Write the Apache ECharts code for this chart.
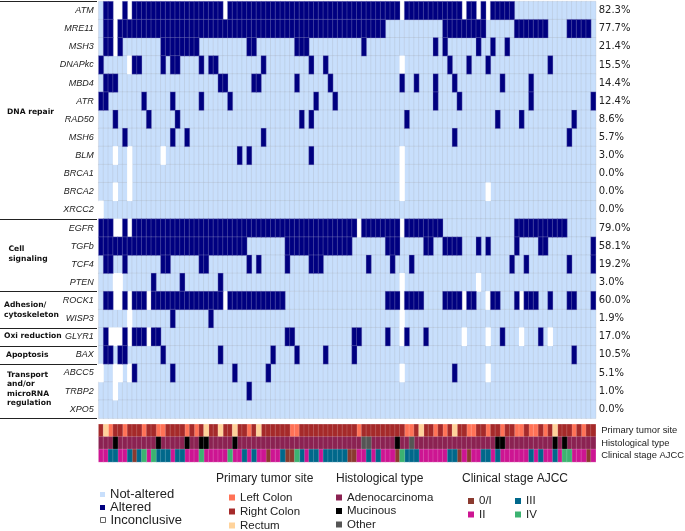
<!DOCTYPE html>
<html><head><meta charset="utf-8">
<style>html,body{margin:0;padding:0;background:#fff}#c{width:685px;height:531px}</style>
<script src="https://cdn.jsdelivr.net/npm/echarts@6/dist/echarts.min.js"></script>
</head><body><div id="c"></div>
<script>
const SAMPLE_COUNT = 104;
const genes = ['ATM','MRE11','MSH3','DNAPkc','MBD4','ATR','RAD50','MSH6','BLM','BRCA1','BRCA2','XRCC2','EGFR','TGFb','TCF4','PTEN','ROCK1','WISP3','GLYR1','BAX','ABCC5','TRBP2','XPO5'];
const percents = ['82.3%','77.7%','21.4%','15.5%','14.4%','12.4%','8.6%','5.7%','3.0%','0.0%','0.0%','0.0%','79.0%','58.1%','19.2%','3.0%','60.0%','1.9%','17.0%','10.5%','5.1%','1.0%','0.0%'];

// Altered sample columns per gene, as [first,last] runs
const altered = [
 [[1,2],[5,5],[7,25],[27,62],[64,75],[77,78],[80,80],[82,86]],
 [[1,2],[4,59],[72,80],[87,93],[98,102]],
 [[1,2],[4,4],[13,20],[31,32],[41,43],[55,55],[70,70],[72,72],[79,79],[82,82],[85,85]],
 [[0,0],[7,8],[13,13],[15,16],[21,21],[23,24],[34,34],[44,44],[47,47],[73,73],[77,77],[81,81],[94,94]],
 [[1,3],[25,26],[32,33],[41,41],[48,48],[63,63],[66,66],[70,70],[74,74],[84,84],[90,90]],
 [[0,1],[9,9],[15,15],[21,21],[27,27],[45,45],[49,49],[70,70],[75,75],[90,90],[103,103]],
 [[3,3],[10,10],[16,16],[42,42],[44,44],[64,64],[83,83],[88,88],[99,99]],
 [[5,5],[15,15],[18,18],[34,34],[74,74],[98,98]],
 [[29,29],[31,31],[44,44]],
 [],
 [],
 [],
 [[0,2],[5,5],[7,53],[55,62],[64,71],[87,97]],
 [[0,30],[39,52],[60,62],[68,69],[72,75],[79,79],[81,81],[87,87],[92,93],[103,103]],
 [[1,2],[5,5],[13,14],[21,22],[31,31],[33,33],[39,39],[44,46],[56,56],[61,61],[65,65],[86,86],[89,89],[98,98],[103,103]],
 [[11,11],[17,17],[25,25]],
 [[1,2],[5,5],[7,9],[11,25],[27,38],[60,62],[64,67],[72,75],[77,78],[82,83],[87,87],[89,91],[94,94],[98,99],[103,103]],
 [[15,15],[23,23]],
 [[1,1],[5,5],[7,9],[11,12],[39,40],[53,54],[60,60],[64,64],[68,68],[84,84],[92,92]],
 [[1,2],[4,5],[13,13],[25,25],[36,36],[41,41],[47,47],[53,53],[99,99]],
 [[7,7],[15,15],[28,28],[35,35],[74,74]],
 [[31,31]],
 []
];
// Inconclusive sample columns per gene
const inconclusive = [
 [3,4,6,26,63,76,79,81],
 [3],
 [3],
 [6,63],
 [],
 [],
 [],
 [],
 [3,6,13,63],
 [6,63],
 [3,6,63,81],
 [0],
 [3,4,6,54,63],
 [],
 [],
 [3,4,63,79],
 [3,4,6,10,26,63,76,81,88],
 [6,63],
 [2,3,4,6,10,63,76,81,88,94],
 [],
 [0,3,4,6,63,81],
 [3],
 []
];

// Annotation tracks as runs of samples
const siteRuns = [
 ['R',0,0],['C',1,1],['L',2,2],['R',3,4],['L',5,5],['R',6,8],['L',9,9],['R',10,11],['L',12,13],['R',14,17],['L',18,18],['R',19,19],['L',20,20],['R',21,21],['C',22,22],['R',23,24],['C',25,25],['R',26,27],['C',28,28],['R',29,30],['L',31,31],['R',32,32],['C',33,33],['R',34,39],['L',40,41],['R',42,53],['L',54,54],['R',55,63],['L',64,65],['R',66,66],['C',67,67],['R',68,69],['L',70,70],['R',71,71],['L',72,72],['R',73,73],['C',74,74],['R',75,76],['L',77,78],['R',79,80],['L',81,81],['R',82,83],['L',84,84],['R',85,86],['L',87,88],['R',89,89],['L',90,91],['R',92,92],['L',93,93],['R',94,94],['C',95,95],['R',96,98],['L',99,99],['R',100,100],['L',101,101],['R',102,103]
];
const mucinousCols = [3,12,18,21,22,28,62,83,84,95,97];
const otherCols = [55,56,65];
const stageRuns = [
 ['P',0,1],['T',2,3],['P',4,5],['T',6,6],['Z',7,7],['T',8,8],['G',9,9],['P',10,10],['G',11,11],['T',12,14],['P',15,15],['T',16,17],['P',18,20],['G',21,21],['P',22,26],['G',27,27],['P',28,29],['T',30,30],['P',31,31],['T',32,32],['P',33,34],['Z',35,35],['P',36,37],['T',38,38],['Z',39,40],['G',41,41],['T',42,42],['P',43,43],['T',44,45],['P',46,46],['T',47,51],['Z',52,53],['P',54,55],['T',56,56],['P',57,57],['T',58,58],['P',59,61],['Z',62,62],['G',63,63],['T',64,66],['P',67,72],['T',73,74],['Z',75,75],['P',76,76],['Z',77,77],['P',78,79],['T',80,81],['P',82,82],['T',83,83],['P',84,89],['T',90,90],['P',91,91],['T',92,92],['P',93,94],['T',95,95],['P',96,96],['G',97,98],['P',99,101],['Z',102,102],['P',103,103]
];
const trackNames = ['Primary tumor site','Histological type','Clinical stage AJCC'];
const groupLines = [0,12,16,18,19,20,23];

const samples = Array.from({length:SAMPLE_COUNT},(_,i)=>String(i));
const expand = runs => { const o=[]; runs.forEach(r=>{for(let i=r[0];i<=r[1];i++)o.push(i);}); return o; };
const alteredData=[], inconData=[], notData=[];
genes.forEach((g,row)=>{
  const a=new Set(expand(altered[row])), n=new Set(inconclusive[row]);
  for(let c=0;c<SAMPLE_COUNT;c++){
    if(n.has(c)) inconData.push([c,row,1]);
    else if(a.has(c)) alteredData.push([c,row,1]);
    else notData.push([c,row,1]);
  }
});
const grey='rgba(165,170,180,0.38)';
const F='"Liberation Sans"', D='"DejaVu Sans"';
function hm(name,color,data,gi,border,bw){
  return {type:'heatmap',name,xAxisIndex:gi,yAxisIndex:gi===0?0:2,data,silent:true,animation:false,
    itemStyle:{color,borderColor:border,borderWidth:bw},emphasis:{disabled:true}};
}
const trackData={L:[],R:[],C:[],A:[],M:[],O:[],Z:[],P:[],T:[],G:[]};
siteRuns.forEach(([k,a,b])=>{for(let c=a;c<=b;c++)trackData[k].push([c,0,1]);});
for(let c=0;c<SAMPLE_COUNT;c++){
  const h=mucinousCols.includes(c)?'M':otherCols.includes(c)?'O':'A'; trackData[h].push([c,1,1]);
}
stageRuns.forEach(([k,a,b])=>{for(let c=a;c<=b;c++)trackData[k].push([c,2,1]);});
const wl='rgba(255,255,255,0.35)';
const series=[
 hm('Not-altered','#c8dffc',notData,0,grey,0.6),
 hm('Inconclusive','#ffffff',inconData,0,'rgba(255,255,255,0)',0),
 hm('Altered','#000080',alteredData,0,'rgba(150,150,200,0.55)',0.6),
 hm('Left Colon','#ff7256',trackData.L,1,wl,0.5),
 hm('Right Colon','#a52a2a',trackData.R,1,wl,0.5),
 hm('Rectum','#ffd39b',trackData.C,1,wl,0.5),
 hm('Adenocarcinoma','#8b2252',trackData.A,1,wl,0.5),
 hm('Mucinous','#000000',trackData.M,1,wl,0.5),
 hm('Other','#555555',trackData.O,1,wl,0.5),
 hm('0/I','#8b3a2f',trackData.Z,1,wl,0.5),
 hm('II','#cd1592',trackData.P,1,wl,0.5),
 hm('III','#00688b',trackData.T,1,wl,0.5),
 hm('IV','#3cb371',trackData.G,1,wl,0.5)
];
const GL=98.7,GW=497,GT=1.5,GH=416.8,AT=424.3,AH=37.6;
function lg(name,left,cy,fs,w){
  const h=Math.ceil(fs*1.15);
  return {show:true,orient:'horizontal',left,top:cy-h/2+1.5,padding:0,itemWidth:w||6,itemHeight:w||6,itemGap:0,icon:'rect',selectedMode:false,
    itemStyle:{borderWidth:0},
    textStyle:{fontFamily:F,fontSize:fs,color:'#222'},
    data:[name==='Inconclusive'?{name,itemStyle:{color:'#fff',borderColor:'#666',borderWidth:1}}:{name}]};
}
const rowH=GH/genes.length;
const lines=groupLines.map(r=>{const y=Math.round(GT+r*rowH-(r===0?1:0))+0.5;return {type:'line',silent:true,shape:{x1:0,y1:y,x2:97,y2:y},style:{stroke:'#222',lineWidth:1}};});
const groupText=[
 ['DNA repair',7,111.7],['Cell',8.5,249],['signaling',8.5,259],['Adhesion/',4,305],['cytoskeleton',4,315],
 ['Oxi reduction',4,336],['Apoptosis',6,355],['Transport',7,375],['and/or',7,384.5],['microRNA',7,394],['regulation',7,403.5]
].map(t=>({type:'text',silent:true,style:{text:t[0],x:t[1],y:t[2],textVerticalAlign:'middle',font:'bold 7.6px '+D,fill:'#111'}}));
const titles=[['Primary tumor site',216],['Histological type',336],['Clinical stage AJCC',462]]
 .map(t=>({type:'text',silent:true,style:{text:t[0],x:t[1],y:479,textVerticalAlign:'middle',font:'12px '+F,fill:'#222'}}));
const chart=echarts.init(document.getElementById('c'),null,{renderer:'canvas'});
chart.setOption({
 animation:false,backgroundColor:'#fff',tooltip:{show:false},
 grid:[{left:GL,top:GT,width:GW,height:GH,outerBoundsMode:'none'},{left:GL,top:AT,width:GW,height:AH,outerBoundsMode:'none'}],
 xAxis:[{type:'category',gridIndex:0,data:samples,show:false},{type:'category',gridIndex:1,data:samples,show:false}],
 yAxis:[
  {type:'category',gridIndex:0,data:genes,inverse:true,axisLine:{show:false},axisTick:{show:false},splitLine:{show:false},
   axisLabel:{interval:0,fontFamily:F,fontStyle:'italic',fontSize:9,color:'#222',margin:5}},
  {type:'category',gridIndex:0,position:'right',data:percents,inverse:true,axisLine:{show:false},axisTick:{show:false},splitLine:{show:false},
   axisLabel:{interval:0,fontFamily:D,fontSize:10,color:'#222',margin:3}},
  {type:'category',gridIndex:1,position:'right',data:trackNames,inverse:true,axisLine:{show:false},axisTick:{show:false},splitLine:{show:false},
   axisLabel:{interval:0,fontFamily:F,fontSize:9.4,color:'#222',margin:5.5}}
 ],
 legend:[
  lg('Not-altered',100,494,13,5),lg('Altered',100,507,13,5),lg('Inconclusive',100,519.5,13,5),
  lg('Left Colon',229,497,11.5),lg('Right Colon',229,511,11.5),lg('Rectum',229,525,11.5),
  lg('Adenocarcinoma',336,497,11.5),lg('Mucinous',336,510.5,11.5),lg('Other',336,524,11.5),
  lg('0/I',468,500.5,11.5),lg('II',468,514,11.5),
  lg('III',515,500.5,11.5),lg('IV',515,514,11.5)
 ],
 graphic:{elements:[...lines,...groupText,...titles]},
 series
});
</script></body></html>
